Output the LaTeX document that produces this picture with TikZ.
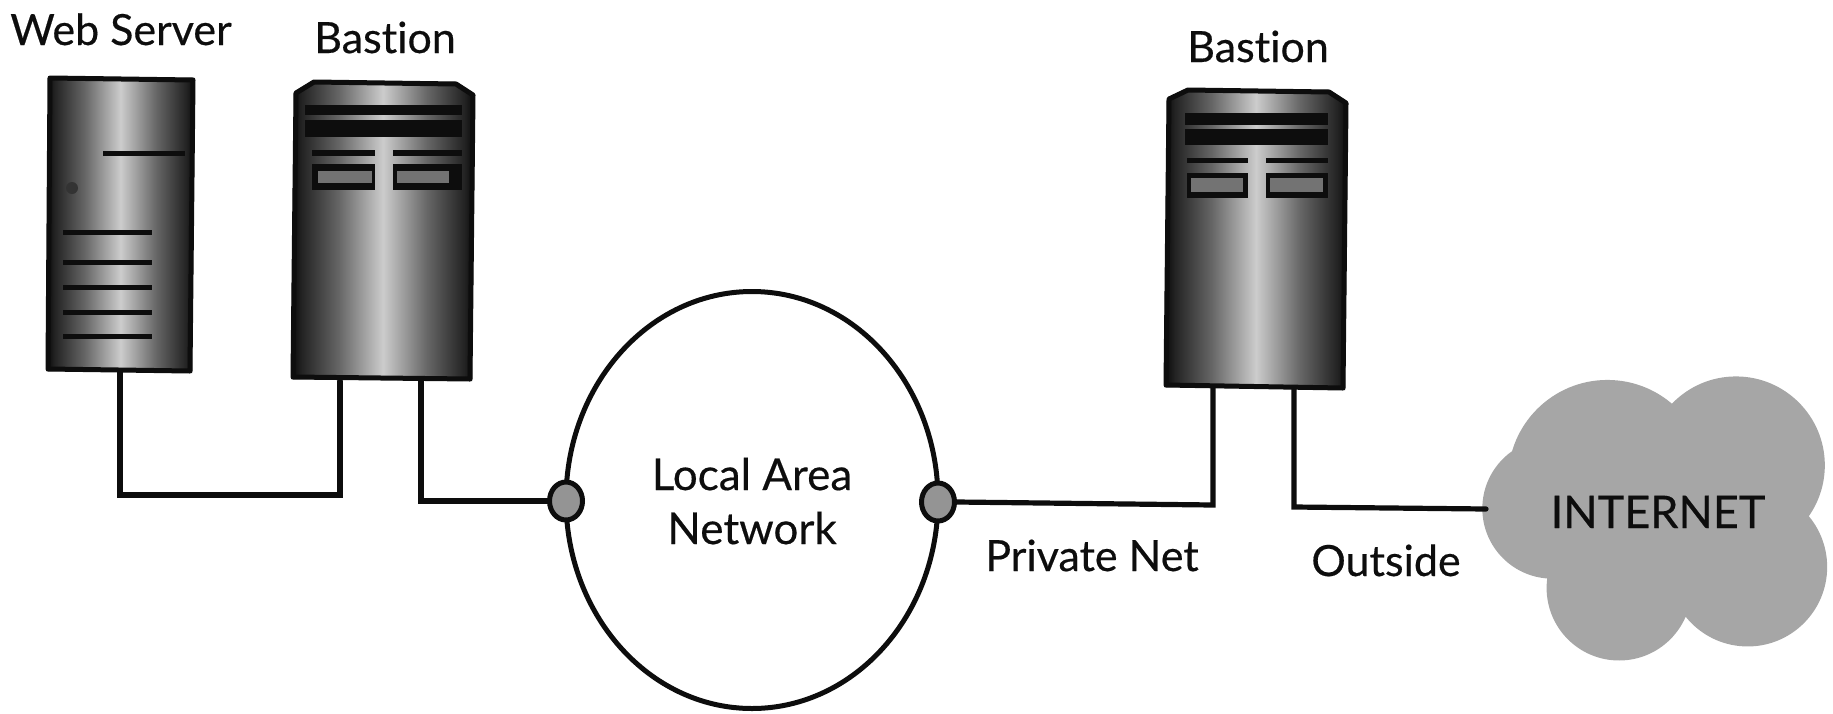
\documentclass[tikz,border=0pt]{standalone}
\usepackage{fontspec}
\setmainfont[Ligatures=NoCommon]{Lato}
\newfontfamily\lblfont[FakeBold=0.4,Ligatures=NoCommon]{Lato}
\usetikzlibrary{shapes.geometric}
\definecolor{sA}{gray}{0.03}
\definecolor{sB}{gray}{0.14}
\definecolor{sC}{gray}{0.40}
\definecolor{sD}{gray}{0.80}
\pgfdeclarehorizontalshading{srvshade}{100bp}{color(0bp)=(sA); color(25bp)=(sA); color(28bp)=(sB); color(38bp)=(sC); color(50bp)=(sD); color(62bp)=(sC); color(72bp)=(sB); color(75bp)=(sA); color(100bp)=(sA)}
\tikzset{
  wire/.style={line width=5.2pt, line cap=round, line join=miter, draw=black!95},
  lbl/.style={font=\lblfont\fontsize{43}{54}\selectfont, text=black!95, inner sep=0pt, anchor=base},
  srvbody/.style={shading=srvshade},
  srvedge/.style={draw=black!95, line width=5pt, line join=round},
  bar/.style={fill=black!95},
  srvbox/.style={inner sep=0pt, outer sep=0pt},
  port/.style={draw=black!95, fill=black!42, line width=5pt, shape=ellipse, minimum width=33pt, minimum height=38pt, inner sep=0pt},
}
\begin{document}
\begin{tikzpicture}[x=1pt,y=-1pt]
\useasboundingbox (0,0) rectangle (1833,713);
% cloud
\begin{scope}[x=1.169pt,y=-1.169pt]
\fill[black!35]
  (1375,410) circle [radius=85]
  (1485,398) circle [radius=76]
  (1328,435) circle [radius=60]
  (1385,503) circle [radius=62]
  (1495,485) circle [radius=68]
  (1425,445) circle [radius=70];
\end{scope}
\node[lbl, font=\lblfont\fontsize{45}{54}\selectfont] (inet) at (1658,528) {INTERNET};
% web server
\shade[srvbody] (50,76) -- (195,78) -- (192,373) -- (46,371) -- cycle;
\draw[srvedge] (50,78) -- (193,80) -- (190,371) -- (48,369) -- cycle;
\node[srvbox, minimum width=146pt, minimum height=297pt] (web) at (120,224) {};
\fill[bar] (103,150.5) rectangle (185,155.5);
\fill[black!80] (72,188) circle (6);
\foreach \yy in {232,262,287,312,336} \fill[bar] (63,\yy-2.5) rectangle (152,\yy+2.5);
% bastion 1
\shade[srvbody] (313,80) -- (457,82) -- (475,94) -- (472,381) -- (291,379) -- (294,92) -- cycle;
\draw[srvedge] (314,82) -- (456,84) -- (473,95) -- (470,379) -- (293,377) -- (296,93) -- cycle;
\node[srvbox, minimum width=182pt, minimum height=300pt] (bas1) at (383,230) {};
\fill[bar] (305,105) rectangle (462,115);
\fill[bar] (305,120) rectangle (462,137);
\fill[bar] (312,150) rectangle (375,156);
\fill[bar] (393,150) rectangle (462,156);
\fill[bar] (312,164) rectangle (375,190);
\fill[bar] (393,164) rectangle (462,190);
\fill[black!55] (318,171) rectangle (372,183);
\fill[black!55] (397,171) rectangle (449,183);
% bastion 2
\shade[srvbody] (1187,88) -- (1330,90) -- (1348,102) -- (1345,390) -- (1164,387) -- (1167,98) -- cycle;
\draw[srvedge] (1188,90) -- (1329,92) -- (1346,103) -- (1343,388) -- (1166,385) -- (1169,99) -- cycle;
\node[srvbox, minimum width=182pt, minimum height=302pt] (bas2) at (1256,239) {};
\fill[bar] (1185,113) rectangle (1328,125);
\fill[bar] (1185,129) rectangle (1328,145);
\fill[bar] (1187,158) rectangle (1248,163);
\fill[bar] (1266,158) rectangle (1328,163);
\fill[bar] (1187,173) rectangle (1248,198);
\fill[bar] (1266,173) rectangle (1328,198);
\fill[black!55] (1191,178) rectangle (1243,192);
\fill[black!55] (1270,178) rectangle (1323,192);
% network
\node[draw=black!95, line width=5pt, shape=ellipse, minimum width=372pt, minimum height=417pt, inner sep=0pt] (lan) at (752,500) {};
\node[lbl, align=center, anchor=center, font=\lblfont\fontsize{44}{54}\selectfont] (lant) at (752,501) {Local Area\\Network};
\node[port] (portL) at (566,501) {};
\node[port] (portR) at (938,502) {};
% connector ends
\coordinate (b1a) at (340,381);
\coordinate (b1b) at (421,381);
\coordinate (b2a) at (1213,388);
\coordinate (b2b) at (1294,388);
\coordinate (jw) at (340,495);
\coordinate (j2) at (1213,505);
\coordinate (j3) at (1294,507);
\coordinate (cloudW) at (1486,509);
\draw[wire] (web.south) |- (jw) -- (b1a);
\draw[wire] (b1b) |- (portL.west);
\draw[wire] (portR.east) -- (j2) -- (b2a);
\draw[wire] (b2b) -- (j3) -- (cloudW);
% labels
\node[lbl] (lw) at (121,45) {Web Server};
\node[lbl] (lb1) at (385,53) {Bastion};
\node[lbl] (lb2) at (1258,62) {Bastion};
\node[lbl] (lp) at (1092,571) {Private Net};
\node[lbl] (lo) at (1386,576) {Outside};
\end{tikzpicture}
\end{document}
